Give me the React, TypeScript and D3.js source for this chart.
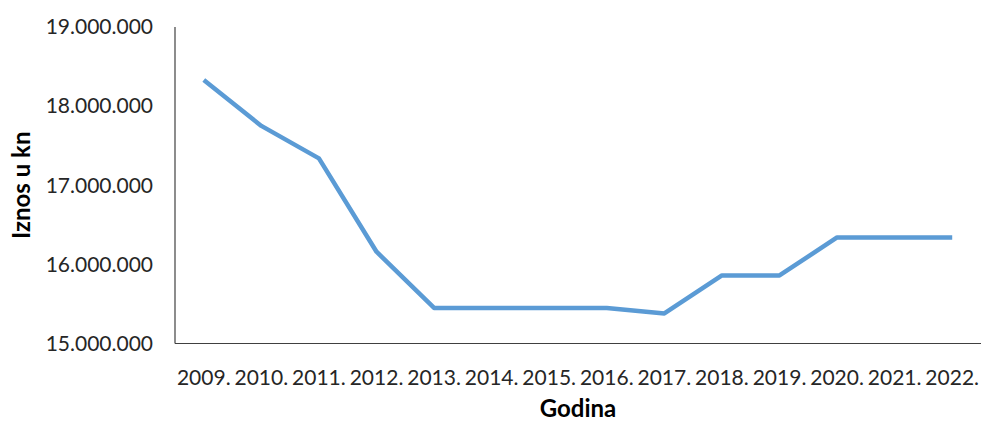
import React from "react";
import * as d3 from "d3";

const years = ["2009.", "2010.", "2011.", "2012.", "2013.", "2014.", "2015.", "2016.", "2017.", "2018.", "2019.", "2020.", "2021.", "2022."];
const values = [18330000, 17750000, 17340000, 16160000, 15450000, 15450000, 15450000, 15450000, 15380000, 15860000, 15860000, 16340000, 16340000, 16340000];
const yTicks = [15000000, 16000000, 17000000, 18000000, 19000000];

const W = 981, H = 422;
const M = { left: 175, right: 0, top: 27, bottom: 78.5 };

const fmt = (v: number) => d3.format(",")(v).replace(/,/g, ".");

export default function App() {
  const x = d3.scalePoint<string>().domain(years).range([M.left, W - M.right]).padding(0.5);
  const y = d3.scaleLinear().domain([15000000, 19000000]).range([H - M.bottom, M.top]);
  const line = d3.line<number>().x((_, i) => x(years[i]) as number).y((d) => y(d));
  const font = "Lato, 'Open Sans', sans-serif";
  return (
    <svg width={W} height={H} style={{ position: "absolute", left: 0, top: 0, background: "#fff" }} fontFamily={font}>
      <line x1={M.left} x2={M.left} y1={M.top} y2={H - M.bottom} stroke="#404040" strokeWidth={1.2} />
      <line x1={M.left} x2={W - M.right} y1={H - M.bottom} y2={H - M.bottom} stroke="#404040" strokeWidth={1.2} />
      {yTicks.map((t) => (
        <text key={t} x={153} y={y(t)} dy="0.35em" textAnchor="end" fontSize={21} fill="#262626">{fmt(t)}</text>
      ))}
      {years.map((yr) => (
        <text key={yr} x={x(yr) as number} y={378} dy="0.35em" textAnchor="middle" fontSize={21} fill="#262626">{yr}</text>
      ))}
      <path d={line(values) || ""} fill="none" stroke="#5B9BD5" strokeWidth={4.5} strokeLinejoin="round" />
      <text x={578} y={409} dy="0.35em" textAnchor="middle" fontSize={24} fontWeight="bold" fill="#000">Godina</text>
      <text transform={`translate(22,${(M.top + H - M.bottom) / 2}) rotate(-90)`} dy="0.35em" textAnchor="middle" fontSize={24} fontWeight="bold" fill="#000">Iznos u kn</text>
    </svg>
  );
}
